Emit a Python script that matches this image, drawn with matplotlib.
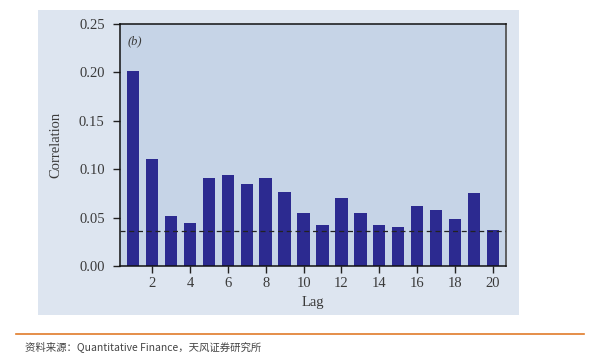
import matplotlib
matplotlib.use("Agg")
import matplotlib.pyplot as plt
from matplotlib.patches import Rectangle
from matplotlib.lines import Line2D

lags = list(range(1, 21))
corr = [0.2015, 0.111, 0.052, 0.0447, 0.0906, 0.094, 0.0847, 0.091, 0.0764, 0.055,
        0.042, 0.070, 0.055, 0.042, 0.040, 0.062, 0.058, 0.0486, 0.0754, 0.037]
threshold = 0.0358
yticks = [0.00, 0.05, 0.10, 0.15, 0.20, 0.25]
xticks = [2, 4, 6, 8, 10, 12, 14, 16, 18, 20]
caption = "资料来源：Quantitative Finance，天风证券研究所"

fig = plt.figure(figsize=(5.9, 3.57), dpi=100)

# light outer panel behind the chart
fig.patches.append(Rectangle((38 / 590, 1 - 315 / 357), (519 - 38) / 590, (315 - 10) / 357,
                             transform=fig.transFigure, facecolor="#dde5f0", edgecolor="none", zorder=-1))

ax = fig.add_axes([120 / 590, 1 - 266 / 357, (506 - 120) / 590, (266 - 24) / 357])
ax.set_zorder(1)
ax.set_facecolor("#c6d4e7")
ax.bar(lags, corr, width=0.66, color="#2c2a90", zorder=2)
ax.axhline(threshold, color="#222222", lw=0.9, ls=(0, (4, 3)), zorder=3)

ax.set_xlim(0.3, 20.7)
ax.set_ylim(0, 0.25)
ax.set_xticks(xticks)
ax.set_yticks(yticks)
ax.set_yticklabels([f"{v:.2f}" for v in yticks])

serif = ["Liberation Serif", "DejaVu Serif"]
for lab in ax.get_xticklabels() + ax.get_yticklabels():
    lab.set_family(serif)
    lab.set_fontsize(10.5)
    lab.set_color("#3a3a3a")
ax.tick_params(direction="out", length=5, width=1, color="#222222", pad=3)
ax.tick_params(axis="y", pad=6)

for s in ["left", "bottom", "top"]:
    ax.spines[s].set_color("#111111")
    ax.spines[s].set_linewidth(1.1)
ax.spines["right"].set_color("#555555")
ax.spines["right"].set_linewidth(1.3)

ax.set_ylabel("Correlation", family=serif, fontsize=10.5, color="#3a3a3a", labelpad=12)
ax.set_xlabel("Lag", family=serif, fontsize=10.5, color="#3a3a3a", labelpad=4)
ax.text(0.02, 0.955, "(b)", transform=ax.transAxes, family=serif, style="italic",
        fontsize=9, color="#3a3a3a", va="top", ha="left")

# source line and caption
fig.lines.append(Line2D([16 / 590, 584 / 590], [1 - 334 / 357] * 2, transform=fig.transFigure,
                        color="#e07b2a", lw=1.2))
fig.text(25 / 590, 1 - 347 / 357, caption, family=["Noto Sans CJK SC", "DejaVu Sans"],
         fontsize=7.5, color="#444444", va="center", ha="left")

fig.savefig("out.png", dpi=100)
